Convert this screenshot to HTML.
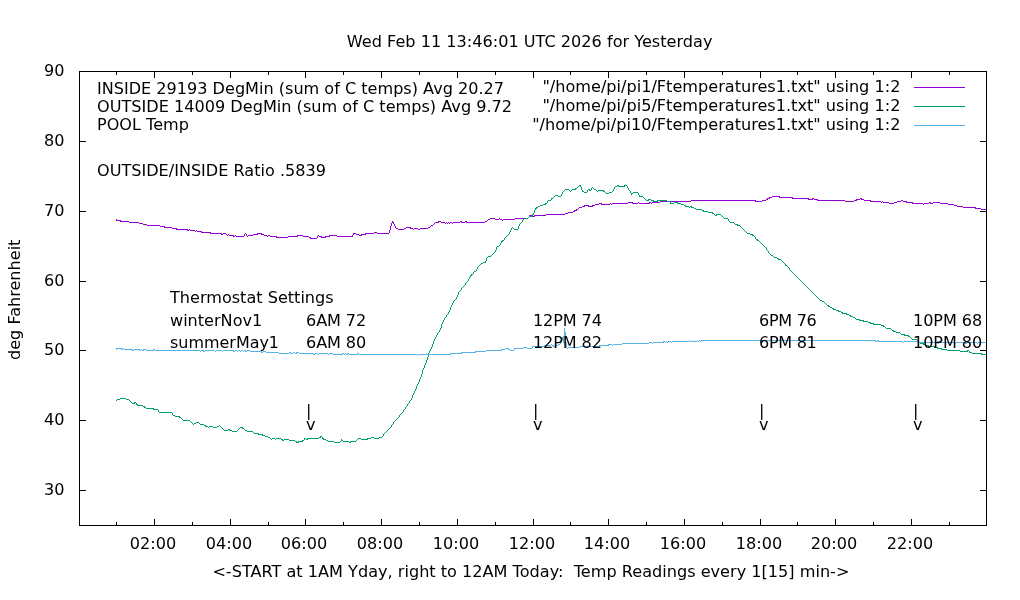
<!DOCTYPE html><html><head><meta charset="utf-8"><title>Temperatures</title><style>html,body{margin:0;padding:0;background:#fff}svg{display:block}text{font-family:"DejaVu Sans","Liberation Sans",sans-serif;font-size:16.08px;fill:#000;white-space:pre}.c{shape-rendering:crispEdges;fill:none;stroke-width:1}</style></head><body>
<svg width="1020" height="600" viewBox="0 0 1020 600">
<rect width="1020" height="600" fill="#fff"/>
<path class="c" stroke="#9400d3" d="M772,196.5h8M769,197.5h3M779,197.5h14M767,198.5h3M792,198.5h17M812,198.5h2M860,198.5h2M766,199.5h2M808,199.5h5M814,199.5h4M856,199.5h4M861,199.5h3M691,200.5h65M762,200.5h4M817,200.5h28M854,200.5h3M864,200.5h7M901,200.5h2M660,201.5h31M755,201.5h7M845,201.5h9M870,201.5h11M882,201.5h1M897,201.5h4M903,201.5h4M628,202.5h5M638,202.5h1M649,202.5h2M652,202.5h8M881,202.5h1M883,202.5h6M894,202.5h3M906,202.5h7M929,202.5h2M933,202.5h7M599,203.5h3M610,203.5h1M612,203.5h16M632,203.5h6M639,203.5h11M651,203.5h1M889,203.5h5M912,203.5h11M924,203.5h5M930,203.5h3M940,203.5h8M595,204.5h4M601,204.5h9M611,204.5h1M923,204.5h1M948,204.5h6M584,205.5h5M592,205.5h3M954,205.5h3M582,206.5h3M588,206.5h5M957,206.5h6M579,207.5h3M963,207.5h13M578,208.5h1M975,208.5h6M576,209.5h2M981,209.5h5M574,210.5h3M573,211.5h2M568,212.5h5M565,213.5h3M546,214.5h19M529,215.5h3M534,215.5h12M529,216.5h1M532,216.5h3M528,217.5h1M490,218.5h5M499,218.5h1M515,218.5h13M116,219.5h1M488,219.5h2M495,219.5h4M500,219.5h2M503,219.5h12M116,220.5h5M487,220.5h1M502,220.5h1M120,221.5h9M392,221.5h1M438,221.5h3M460,221.5h2M465,221.5h2M485,221.5h2M129,222.5h10M392,222.5h2M435,222.5h4M441,222.5h4M446,222.5h1M448,222.5h1M450,222.5h2M453,222.5h7M461,222.5h4M466,222.5h19M139,223.5h4M391,223.5h1M393,223.5h1M434,223.5h1M445,223.5h1M447,223.5h1M449,223.5h1M452,223.5h1M143,224.5h4M391,224.5h1M394,224.5h1M433,224.5h1M147,225.5h13M391,225.5h1M394,225.5h1M431,225.5h2M160,226.5h5M390,226.5h1M395,226.5h1M430,226.5h1M164,227.5h8M390,227.5h1M395,227.5h1M406,227.5h5M428,227.5h2M172,228.5h5M390,228.5h1M396,228.5h2M404,228.5h2M410,228.5h3M414,228.5h4M420,228.5h8M176,229.5h12M189,229.5h1M390,229.5h1M398,229.5h6M413,229.5h1M418,229.5h2M187,230.5h2M190,230.5h5M196,230.5h1M389,230.5h1M195,231.5h1M197,231.5h5M389,231.5h1M201,232.5h10M374,232.5h3M389,232.5h1M210,233.5h12M223,233.5h3M245,233.5h1M257,233.5h5M353,233.5h3M365,233.5h9M377,233.5h12M221,234.5h2M226,234.5h1M228,234.5h1M244,234.5h1M246,234.5h1M253,234.5h5M261,234.5h3M353,234.5h1M356,234.5h3M361,234.5h5M227,235.5h1M229,235.5h5M235,235.5h1M244,235.5h1M246,235.5h1M248,235.5h5M264,235.5h3M268,235.5h2M297,235.5h6M318,235.5h1M329,235.5h8M352,235.5h1M359,235.5h3M233,236.5h2M236,236.5h8M247,236.5h1M267,236.5h1M270,236.5h7M288,236.5h10M303,236.5h6M317,236.5h1M319,236.5h3M325,236.5h5M337,236.5h16M276,237.5h12M309,237.5h2M317,237.5h1M321,237.5h5M310,238.5h7"/>
<path class="c" stroke="#009e73" d="M579,185.5h2M617,185.5h2M624,185.5h3M578,186.5h1M580,186.5h1M615,186.5h2M618,186.5h7M627,186.5h1M577,187.5h1M581,187.5h1M592,187.5h1M614,187.5h1M627,187.5h1M575,188.5h2M581,188.5h1M591,188.5h1M593,188.5h1M614,188.5h1M628,188.5h1M565,189.5h4M572,189.5h4M581,189.5h1M588,189.5h2M591,189.5h1M594,189.5h2M613,189.5h1M628,189.5h1M564,190.5h1M569,190.5h1M571,190.5h1M582,190.5h1M587,190.5h1M589,190.5h2M596,190.5h1M598,190.5h6M613,190.5h1M629,190.5h1M563,191.5h1M570,191.5h1M582,191.5h2M587,191.5h1M597,191.5h1M603,191.5h2M612,191.5h1M630,191.5h1M562,192.5h1M584,192.5h3M605,192.5h1M609,192.5h3M630,192.5h1M633,192.5h5M562,193.5h1M606,193.5h3M631,193.5h2M638,193.5h1M561,194.5h1M631,194.5h1M638,194.5h1M555,195.5h3M561,195.5h1M639,195.5h1M554,196.5h1M558,196.5h3M639,196.5h4M553,197.5h1M643,197.5h1M551,198.5h2M644,198.5h1M551,199.5h1M645,199.5h1M648,199.5h3M548,200.5h3M646,200.5h3M651,200.5h3M657,200.5h10M547,201.5h1M653,201.5h5M667,201.5h3M547,202.5h1M670,202.5h1M674,202.5h4M545,203.5h2M670,203.5h4M677,203.5h4M543,204.5h3M681,204.5h3M540,205.5h3M684,205.5h2M538,206.5h2M685,206.5h4M690,206.5h2M536,207.5h2M689,207.5h1M691,207.5h3M535,208.5h2M694,208.5h2M535,209.5h1M696,209.5h6M534,210.5h1M702,210.5h2M534,211.5h1M703,211.5h5M534,212.5h1M708,212.5h5M533,213.5h1M712,213.5h2M532,214.5h2M714,214.5h1M716,214.5h5M532,215.5h1M715,215.5h2M721,215.5h1M529,216.5h3M722,216.5h1M528,217.5h1M723,217.5h1M524,218.5h4M724,218.5h4M523,219.5h1M728,219.5h1M522,220.5h1M728,220.5h1M522,221.5h1M729,221.5h1M521,222.5h1M730,222.5h4M520,223.5h1M734,223.5h1M519,224.5h1M735,224.5h3M519,225.5h1M737,225.5h3M518,226.5h1M740,226.5h1M512,227.5h1M518,227.5h1M741,227.5h1M511,228.5h1M513,228.5h1M518,228.5h1M742,228.5h1M511,229.5h1M514,229.5h4M743,229.5h1M510,230.5h1M744,230.5h1M510,231.5h1M745,231.5h1M509,232.5h1M746,232.5h1M509,233.5h1M747,233.5h3M508,234.5h1M750,234.5h3M507,235.5h1M752,235.5h2M506,236.5h1M754,236.5h1M505,237.5h1M755,237.5h1M504,238.5h1M755,238.5h1M504,239.5h1M756,239.5h2M502,240.5h2M757,240.5h2M501,241.5h2M759,241.5h1M501,242.5h1M760,242.5h1M500,243.5h1M761,243.5h1M500,244.5h1M762,244.5h1M499,245.5h1M763,245.5h1M497,246.5h2M764,246.5h1M496,247.5h1M765,247.5h1M496,248.5h1M766,248.5h1M496,249.5h1M766,249.5h1M495,250.5h1M767,250.5h1M495,251.5h1M768,251.5h1M494,252.5h1M768,252.5h1M493,253.5h1M769,253.5h1M492,254.5h1M770,254.5h1M491,255.5h1M771,255.5h2M488,256.5h3M773,256.5h1M487,257.5h1M774,257.5h3M486,258.5h1M777,258.5h2M486,259.5h1M778,259.5h3M486,260.5h1M781,260.5h1M485,261.5h1M782,261.5h1M483,262.5h3M783,262.5h1M481,263.5h2M784,263.5h1M480,264.5h1M785,264.5h1M479,265.5h1M785,265.5h2M478,266.5h1M787,266.5h1M477,267.5h1M788,267.5h1M477,268.5h1M789,268.5h1M476,269.5h1M789,269.5h1M476,270.5h1M790,270.5h1M474,271.5h2M791,271.5h1M473,272.5h1M792,272.5h1M473,273.5h1M793,273.5h1M471,274.5h2M794,274.5h1M470,275.5h2M795,275.5h1M470,276.5h1M796,276.5h1M469,277.5h1M797,277.5h1M469,278.5h1M798,278.5h1M468,279.5h1M799,279.5h1M468,280.5h1M800,280.5h1M467,281.5h1M801,281.5h1M466,282.5h1M802,282.5h1M465,283.5h1M803,283.5h1M465,284.5h1M804,284.5h1M464,285.5h1M805,285.5h1M463,286.5h1M806,286.5h1M462,287.5h1M807,287.5h1M461,288.5h1M808,288.5h1M461,289.5h1M809,289.5h1M460,290.5h1M810,290.5h1M459,291.5h1M811,291.5h1M458,292.5h1M812,292.5h1M458,293.5h1M813,293.5h1M458,294.5h1M814,294.5h1M457,295.5h1M815,295.5h1M457,296.5h1M816,296.5h1M456,297.5h1M817,297.5h1M456,298.5h1M818,298.5h1M455,299.5h1M819,299.5h1M454,300.5h1M820,300.5h2M453,301.5h1M822,301.5h2M453,302.5h1M824,302.5h1M452,303.5h1M825,303.5h1M452,304.5h1M826,304.5h1M451,305.5h1M827,305.5h2M451,306.5h1M828,306.5h2M450,307.5h1M830,307.5h2M450,308.5h1M832,308.5h2M450,309.5h1M833,309.5h3M449,310.5h1M836,310.5h3M449,311.5h1M838,311.5h3M448,312.5h1M841,312.5h2M448,313.5h1M842,313.5h5M447,314.5h1M846,314.5h3M446,315.5h1M849,315.5h2M446,316.5h1M850,316.5h3M445,317.5h1M853,317.5h2M444,318.5h1M855,318.5h1M444,319.5h1M856,319.5h4M443,320.5h1M859,320.5h5M443,321.5h1M863,321.5h5M442,322.5h1M868,322.5h3M442,323.5h1M870,323.5h4M441,324.5h1M873,324.5h8M441,325.5h1M881,325.5h3M441,326.5h1M883,326.5h2M441,327.5h1M885,327.5h1M440,328.5h1M886,328.5h5M440,329.5h1M891,329.5h1M439,330.5h1M892,330.5h2M439,331.5h1M893,331.5h3M438,332.5h1M896,332.5h4M437,333.5h1M900,333.5h1M437,334.5h1M901,334.5h4M436,335.5h1M904,335.5h5M436,336.5h1M908,336.5h2M435,337.5h1M910,337.5h1M435,338.5h1M911,338.5h1M434,339.5h1M912,339.5h5M434,340.5h1M917,340.5h1M433,341.5h1M918,341.5h1M433,342.5h1M919,342.5h2M433,343.5h1M920,343.5h4M432,344.5h1M923,344.5h3M432,345.5h1M926,345.5h3M432,346.5h1M928,346.5h7M431,347.5h1M934,347.5h4M431,348.5h1M937,348.5h5M430,349.5h1M941,349.5h6M430,350.5h1M947,350.5h13M967,350.5h2M429,351.5h1M960,351.5h8M969,351.5h1M429,352.5h1M969,352.5h3M428,353.5h1M972,353.5h10M428,354.5h1M981,354.5h5M428,355.5h1M428,356.5h1M427,357.5h1M427,358.5h1M427,359.5h1M426,360.5h1M426,361.5h1M426,362.5h1M425,363.5h1M425,364.5h1M424,365.5h1M424,366.5h1M424,367.5h1M423,368.5h1M423,369.5h1M422,370.5h1M422,371.5h1M422,372.5h1M422,373.5h1M421,374.5h1M421,375.5h1M421,376.5h1M420,377.5h1M420,378.5h1M419,379.5h1M419,380.5h1M419,381.5h1M418,382.5h1M418,383.5h1M417,384.5h1M417,385.5h1M416,386.5h1M416,387.5h1M416,388.5h1M415,389.5h1M415,390.5h1M414,391.5h1M414,392.5h1M413,393.5h1M413,394.5h1M412,395.5h1M412,396.5h1M412,397.5h1M120,398.5h6M411,398.5h1M117,399.5h3M126,399.5h3M411,399.5h1M116,400.5h1M129,400.5h1M410,400.5h1M130,401.5h1M409,401.5h1M131,402.5h1M134,402.5h2M409,402.5h1M132,403.5h3M136,403.5h1M408,403.5h1M136,404.5h2M407,404.5h1M137,405.5h6M407,405.5h1M143,406.5h2M406,406.5h1M144,407.5h2M405,407.5h1M146,408.5h8M405,408.5h1M153,409.5h5M404,409.5h1M158,410.5h1M403,410.5h1M158,411.5h1M403,411.5h1M159,412.5h13M402,412.5h1M172,413.5h1M401,413.5h1M172,414.5h1M400,414.5h1M173,415.5h2M399,415.5h1M175,416.5h5M399,416.5h1M179,417.5h2M398,417.5h1M181,418.5h1M397,418.5h1M182,419.5h1M396,419.5h1M183,420.5h7M395,420.5h1M190,421.5h1M394,421.5h1M191,422.5h1M196,422.5h3M393,422.5h1M192,423.5h1M194,423.5h2M199,423.5h1M393,423.5h1M193,424.5h1M200,424.5h4M392,424.5h1M204,425.5h2M219,425.5h1M391,425.5h1M205,426.5h3M209,426.5h4M217,426.5h2M220,426.5h1M391,426.5h1M208,427.5h1M213,427.5h4M221,427.5h1M240,427.5h3M390,427.5h1M222,428.5h1M239,428.5h1M242,428.5h2M389,428.5h1M223,429.5h1M228,429.5h2M238,429.5h1M244,429.5h1M388,429.5h1M224,430.5h4M229,430.5h3M237,430.5h1M245,430.5h2M387,430.5h1M232,431.5h5M247,431.5h6M386,431.5h1M253,432.5h1M385,432.5h1M254,433.5h5M384,433.5h1M258,434.5h5M383,434.5h1M262,435.5h3M383,435.5h1M265,436.5h3M320,436.5h2M382,436.5h1M268,437.5h2M319,437.5h2M322,437.5h1M371,437.5h3M379,437.5h3M270,438.5h1M272,438.5h3M276,438.5h5M304,438.5h2M307,438.5h12M322,438.5h2M358,438.5h3M367,438.5h4M374,438.5h5M271,439.5h1M275,439.5h1M281,439.5h2M284,439.5h5M304,439.5h1M306,439.5h2M323,439.5h3M341,439.5h1M357,439.5h1M361,439.5h7M282,440.5h2M289,440.5h6M302,440.5h2M326,440.5h2M341,440.5h2M356,440.5h1M295,441.5h2M298,441.5h5M328,441.5h6M340,441.5h1M343,441.5h6M350,441.5h6M296,442.5h3M334,442.5h6M349,442.5h2"/>
<path class="c" stroke="#56b4e9" d="M564,328.5h1M564,329.5h1M564,330.5h1M564,331.5h1M564,332.5h2M564,333.5h2M564,334.5h2M564,335.5h2M563,336.5h1M565,336.5h1M562,337.5h2M565,337.5h1M562,338.5h2M565,338.5h1M561,339.5h3M565,339.5h1M561,340.5h1M563,340.5h1M565,340.5h1M689,340.5h1M697,340.5h1M699,340.5h1M701,340.5h175M877,340.5h2M561,341.5h1M563,341.5h1M565,341.5h1M663,341.5h2M666,341.5h1M668,341.5h3M672,341.5h17M690,341.5h7M698,341.5h1M700,341.5h1M875,341.5h2M878,341.5h25M904,341.5h14M937,341.5h3M560,342.5h1M563,342.5h1M566,342.5h1M649,342.5h3M653,342.5h11M665,342.5h1M667,342.5h1M671,342.5h1M903,342.5h1M918,342.5h19M939,342.5h16M956,342.5h10M967,342.5h10M978,342.5h8M560,343.5h1M566,343.5h1M622,343.5h27M652,343.5h1M955,343.5h1M965,343.5h2M977,343.5h1M551,344.5h1M558,344.5h2M566,344.5h1M608,344.5h4M613,344.5h9M544,345.5h7M552,345.5h2M556,345.5h2M566,345.5h1M599,345.5h10M612,345.5h1M532,346.5h12M553,346.5h3M566,346.5h1M580,346.5h20M523,347.5h4M532,347.5h1M566,347.5h1M568,347.5h12M116,348.5h6M123,348.5h1M505,348.5h4M514,348.5h9M527,348.5h5M567,348.5h1M116,349.5h1M121,349.5h2M124,349.5h9M134,349.5h6M141,349.5h1M143,349.5h3M153,349.5h2M501,349.5h4M508,349.5h2M514,349.5h1M132,350.5h2M139,350.5h2M142,350.5h2M146,350.5h8M155,350.5h45M201,350.5h3M205,350.5h10M216,350.5h6M223,350.5h11M235,350.5h2M238,350.5h2M241,350.5h2M244,350.5h2M247,350.5h3M486,350.5h16M510,350.5h4M200,351.5h1M203,351.5h2M215,351.5h1M222,351.5h1M233,351.5h2M237,351.5h1M240,351.5h1M243,351.5h1M245,351.5h2M250,351.5h12M263,351.5h3M475,351.5h11M261,352.5h2M266,352.5h13M289,352.5h2M293,352.5h2M296,352.5h3M461,352.5h15M279,353.5h10M290,353.5h3M295,353.5h2M299,353.5h15M315,353.5h3M319,353.5h9M329,353.5h4M342,353.5h2M345,353.5h1M347,353.5h2M357,353.5h2M450,353.5h12M313,354.5h2M318,354.5h1M328,354.5h1M333,354.5h10M344,354.5h1M346,354.5h2M349,354.5h9M359,354.5h58M418,354.5h33M417,355.5h1"/>
<path class="c" stroke="#9400d3" d="M914,87.5H965"/>
<path class="c" stroke="#009e73" d="M914,106.5H965"/>
<path class="c" stroke="#56b4e9" d="M914,125.5H965"/>
<path class="c" stroke="#000" d="M80,490.5h6M986,490.5h-6M80,420.5h6M986,420.5h-6M80,350.5h6M986,350.5h-6M80,281.5h6M986,281.5h-6M80,211.5h6M986,211.5h-6M80,141.5h6M986,141.5h-6M116.5,525v-3M116.5,72v3M154.5,525v-6M154.5,72v6M192.5,525v-3M192.5,72v3M230.5,525v-6M230.5,72v6M268.5,525v-3M268.5,72v3M305.5,525v-6M305.5,72v6M343.5,525v-3M343.5,72v3M381.5,525v-6M381.5,72v6M419.5,525v-3M419.5,72v3M457.5,525v-6M457.5,72v6M495.5,525v-3M495.5,72v3M533.5,525v-6M533.5,72v6M570.5,525v-3M570.5,72v3M608.5,525v-6M608.5,72v6M646.5,525v-3M646.5,72v3M684.5,525v-6M684.5,72v6M722.5,525v-3M722.5,72v3M760.5,525v-6M760.5,72v6M797.5,525v-3M797.5,72v3M835.5,525v-6M835.5,72v6M873.5,525v-3M873.5,72v3M911.5,525v-6M911.5,72v6M949.5,525v-3M949.5,72v3"/>
<rect class="c" stroke="#000" x="79.5" y="71.5" width="907.0" height="454.0"/>
<text x="64.5" y="495.20" text-anchor="end">30</text>
<text x="64.5" y="425.20" text-anchor="end">40</text>
<text x="64.5" y="355.20" text-anchor="end">50</text>
<text x="64.5" y="286.20" text-anchor="end">60</text>
<text x="64.5" y="216.20" text-anchor="end">70</text>
<text x="64.5" y="146.20" text-anchor="end">80</text>
<text x="64.5" y="76.20" text-anchor="end">90</text>
<text x="153.00" y="548.6" text-anchor="middle">02:00</text>
<text x="229.00" y="548.6" text-anchor="middle">04:00</text>
<text x="304.00" y="548.6" text-anchor="middle">06:00</text>
<text x="380.00" y="548.6" text-anchor="middle">08:00</text>
<text x="456.00" y="548.6" text-anchor="middle">10:00</text>
<text x="532.00" y="548.6" text-anchor="middle">12:00</text>
<text x="607.00" y="548.6" text-anchor="middle">14:00</text>
<text x="683.00" y="548.6" text-anchor="middle">16:00</text>
<text x="759.00" y="548.6" text-anchor="middle">18:00</text>
<text x="834.00" y="548.6" text-anchor="middle">20:00</text>
<text x="910.00" y="548.6" text-anchor="middle">22:00</text>
<text x="529.65" y="46.5" text-anchor="middle" style="font-size:16.11px">Wed Feb 11 13:46:01 UTC 2026 for Yesterday</text>
<text x="530.9" y="576.8" text-anchor="middle" style="font-size:16.11px">&lt;-START at 1AM Yday, right to 12AM Today:  Temp Readings every 1[15] min-&gt;</text>
<text transform="translate(19.7,299.8) rotate(-90)" text-anchor="middle">deg Fahrenheit</text>
<text x="97" y="94">INSIDE 29193 DegMin (sum of C temps) Avg 20.27</text>
<text x="97" y="111.5" style="font-size:16.12px">OUTSIDE 14009 DegMin (sum of C temps) Avg 9.72</text>
<text x="97" y="130">POOL Temp</text>
<text x="97" y="176">OUTSIDE/INSIDE Ratio .5839</text>
<text x="170" y="303">Thermostat Settings</text>
<text x="170" y="326">winterNov1</text>
<text x="170" y="348" style="font-size:15.96px">summerMay1</text>
<text x="306" y="326" style="letter-spacing:-0.1px">6AM 72</text>
<text x="306" y="348" style="letter-spacing:-0.1px">6AM 80</text>
<text x="533" y="326" style="letter-spacing:-0.12px">12PM 74</text>
<text x="533" y="348" style="letter-spacing:-0.12px">12PM 82</text>
<text x="759" y="326" style="letter-spacing:-0.32px">6PM 76</text>
<text x="759" y="348" style="letter-spacing:-0.32px">6PM 81</text>
<text x="913" y="326" style="letter-spacing:-0.08px">10PM 68</text>
<text x="913" y="348" style="letter-spacing:-0.08px">10PM 80</text>
<text x="306" y="416">|</text>
<text x="306" y="430">v</text>
<text x="533" y="416">|</text>
<text x="533" y="430">v</text>
<text x="759" y="416">|</text>
<text x="759" y="430">v</text>
<text x="913" y="416">|</text>
<text x="913" y="430">v</text>
<text x="900.4" y="92" text-anchor="end" style="font-size:16.12px">"/home/pi/pi1/Ftemperatures1.txt" using 1:2</text>
<text x="900.4" y="111" text-anchor="end" style="font-size:16.12px">"/home/pi/pi5/Ftemperatures1.txt" using 1:2</text>
<text x="900.4" y="130" text-anchor="end" style="font-size:16.12px">"/home/pi/pi10/Ftemperatures1.txt" using 1:2</text>
</svg></body></html>
